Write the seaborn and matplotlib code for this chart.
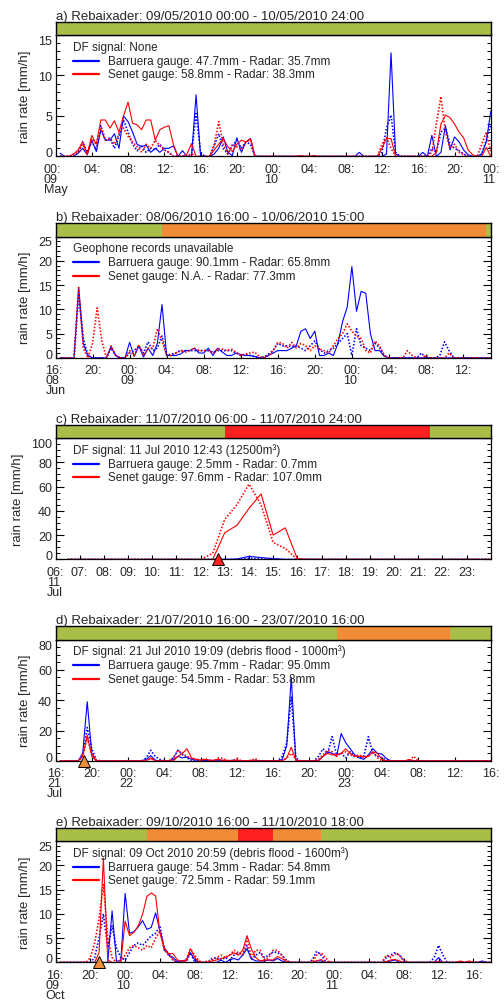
import numpy as np
import matplotlib
matplotlib.use("Agg")
import matplotlib.pyplot as plt
import seaborn as sns
from matplotlib.lines import Line2D
from matplotlib.ticker import MultipleLocator

sns.set_theme(style="white")
plt.rcParams['font.family'] = ['Liberation Sans', 'DejaVu Sans']

STEP = 0.5  # hours between samples

# ---------------- panel a ----------------
a_bar_gauge = [0.4, 0, 0, 0, 0.4, 1.0, 0.2, 2.0, 0.6, 3.3, 2.0, 2.0,
               2.8, 1.0, 5.0, 4.3, 3.0, 1.5, 1.2, 1.4, 0.5, 1.0, 0.5, 1.0,
               1.0, 1.3, 0, 0.7, 0, 0, 7.6, 0, 0, 0, 0.3, 1.0,
               2.4, 0.5, 0.1, 2.3, 0.5, 1.8, 2.2, 0, 0, 0, 0, 0,
               0, 0, 0, 0, 0, 0, 0, 0, 0, 0, 0, 0,
               0, 0, 0, 0, 0, 0, 0.5, 0, 0, 0, 0, 0,
               0.3, 12.8, 0.3, 0, 0, 0, 0, 0, 0.5, 0, 2.6, 0,
               0.5, 3.8, 0.8, 2.4, 1.8, 0.8, 0.2, 0, 0, 0.3, 1.8, 5.6]
a_bar_radar = [0, 0, 0, 0, 0.5, 1.8, 0.5, 1.8, 0.8, 3.8, 2.0, 2.3,
               1.0, 2.5, 4.5, 3.0, 1.5, 0.7, 1.3, 0.5, 1.0, 0.8, 1.5, 0.8,
               0.5, 0, 0, 0, 0, 0.3, 5.3, 0.5, 0, 0, 1.3, 2.8,
               1.0, 0.3, 1.3, 2.0, 1.0, 1.8, 1.5, 0, 0, 0, 0, 0,
               0, 0, 0, 0, 0, 0, 0, 0, 0, 0, 0, 0,
               0, 0, 0, 0, 0, 0, 0, 0, 0, 0, 0, 0.5,
               3.5, 5.1, 0.5, 0, 0, 0, 0, 0, 0, 0, 1.0, 0.5,
               3.0, 3.5, 1.5, 1.0, 0.7, 0.3, 0, 0, 0, 0.3, 2.0, 4.0]
a_sen_gauge = [0, 0, 0, 0.3, 0.8, 1.8, 0.2, 2.6, 1.5, 4.5, 4.5, 3.5,
               4.4, 3.0, 5.0, 6.7, 4.1, 3.9, 3.3, 4.5, 4.5, 2.0, 3.3, 3.6,
               3.8, 1.5, 0, 0, 0.3, 1.6, 0, 0, 0, 0, 0.8, 1.5,
               2.2, 1.2, 0.6, 1.5, 2.0, 1.8, 2.2, 0, 0, 0, 0, 0,
               0, 0, 0, 0, 0, 0.1, 0, 0, 0.1, 0, 0, 0,
               0, 0, 0, 0, 0, 0, 0, 0, 0, 0, 0, 1.0,
               2.2, 2.2, 0, 0, 0, 0, 0, 0, 0, 0, 0, 0.5,
               4.0, 5.1, 4.8, 4.0, 3.0, 2.3, 0.8, 0.2, 0, 0, 1.1, 0]
a_sen_radar = [0, 0, 0, 0.3, 0.5, 1.5, 0.3, 2.2, 1.5, 3.6, 2.0, 2.2,
               1.5, 2.8, 3.5, 2.5, 1.8, 1.2, 0.5, 1.5, 1.0, 2.0, 1.3, 0.8,
               0.5, 0, 0, 0, 0, 0.3, 0, 0, 0, 0, 1.5, 4.3,
               1.5, 0.3, 1.5, 1.2, 0.8, 1.8, 2.0, 0, 0, 0, 0, 0,
               0, 0, 0, 0, 0, 0, 0, 0, 0, 0, 0, 0,
               0, 0, 0, 0, 0, 0, 0, 0, 0, 0, 0, 1.5,
               2.3, 1.0, 0, 0, 0, 0, 0, 0, 0, 0, 0.5, 4.0,
               7.4, 3.0, 1.0, 1.5, 0.5, 0.2, 0, 0, 0, 1.5, 3.0, 0.5]

# ---------------- panel b ----------------
b_bar_gauge = [0, 0, 0, 0, 14.5, 3.0, 0.5, 0, 0, 0, 0, 2.3,
               0.5, 0, 0, 3.2, 0.3, 2.5, 0.2, 2.0, 0.5, 3.0, 11.0, 0.5,
               0.5, 0.5, 0.8, 1.5, 1.5, 2.0, 1.0, 1.0, 2.0, 0.5, 2.0, 1.2,
               0.5, 0.5, 1.0, 0.7, 0.5, 0.5, 0.3, 0, 0, 0.5, 1.0, 1.5,
               1.5, 1.5, 2.0, 2.5, 5.5, 6.0, 4.0, 5.5, 0.5, 0.5, 1.0, 0.5,
               3.0, 7.5, 10.5, 18.8, 9.6, 13.7, 13.3, 5.0, 1.5, 1.5, 0.3, 0,
               0, 0, 0, 0, 0, 0, 0, 0, 0, 0, 0, 0,
               0, 0, 0, 0, 0, 0, 0, 0, 0, 0]
b_bar_radar = [0, 0, 0, 0, 13.0, 4.0, 0.5, 0, 0, 0, 0, 2.0,
               0.5, 0, 0, 1.0, 1.5, 2.5, 1.0, 3.3, 1.5, 2.0, 4.5, 0.5,
               0.8, 1.0, 1.5, 1.5, 1.5, 1.5, 1.5, 1.5, 1.5, 1.2, 1.5, 1.5,
               1.5, 1.5, 1.0, 0.5, 0.7, 0.5, 0.3, 0, 0.2, 0.8, 1.5, 3.0,
               2.5, 2.5, 2.3, 2.5, 2.0, 1.5, 2.5, 3.5, 1.8, 1.0, 1.5, 2.0,
               3.0, 4.0, 5.0, 0.5, 6.0, 2.5, 2.0, 1.5, 3.0, 2.0, 0.5, 0,
               0, 0, 0, 0, 0, 0, 1.0, 0, 0, 0, 0.5, 3.3,
               1.5, 0, 0, 0, 0, 0, 0, 0, 0, 0]
b_sen_gauge = None  # N.A.
b_sen_radar = [0, 0, 0, 0, 14.5, 2.0, 0, 3.0, 10.3, 3.5, 0, 2.5,
               0.5, 0, 0, 1.5, 0.5, 2.5, 0.5, 2.0, 2.0, 6.0, 3.5, 0.5,
               0.5, 1.0, 1.5, 1.2, 1.5, 2.0, 1.5, 1.5, 1.5, 1.0, 1.8, 1.8,
               1.5, 1.8, 1.2, 0.5, 0.8, 1.0, 1.2, 0.3, 0, 0.5, 1.5, 3.2,
               3.0, 2.0, 3.2, 2.0, 3.0, 2.5, 1.5, 2.5, 1.8, 1.5, 1.0, 2.5,
               4.0, 5.0, 7.0, 5.5, 4.5, 4.0, 1.5, 1.0, 3.5, 2.5, 0.5, 0,
               0, 0, 0, 1.5, 0.5, 0, 0, 0.5, 0, 0, 0, 0,
               1.0, 0, 0, 0, 0, 0, 0, 0, 0, 0]

# ---------------- panel c ----------------
c_bar_gauge = [0, 0, 0, 0, 0, 0, 0, 0, 0, 0, 0, 0,
               0, 0, 0.3, 2.5, 1.5, 0.7, 0, 0, 0, 0, 0, 0,
               0, 0, 0, 0, 0, 0, 0, 0, 0, 0, 0, 0]
c_bar_radar = [0, 0, 0, 0, 0, 0, 0, 0, 0, 0, 0, 0,
               0, 0, 0, 1.0, 0.4, 0, 0, 0, 0, 0, 0, 0,
               0, 0, 0, 0, 0, 0, 0, 0, 0, 0, 0, 0]
c_sen_gauge = [0, 0, 0, 0, 0, 0, 0, 0, 0, 0, 0, 0,
               0, 22, 28, 42, 54, 20, 26, 0.5, 0, 0, 0, 0,
               0, 0, 0, 0, 0, 0, 0, 0, 0, 0, 0, 0]
c_sen_radar = [0, 0, 0, 0, 0, 0, 0, 0, 0, 0, 0, 0,
               5, 33, 45, 62, 45, 14, 9, 0, 0, 0, 0, 0,
               0, 0, 0, 0, 0, 0, 0, 0, 0, 0, 0, 0]

# ---------------- panel d ----------------
d_bar_gauge = [0, 0, 0, 0, 0, 5, 39, 5, 0, 0, 0, 0,
               0, 0, 0, 0, 0, 0, 0, 1, 3.5, 0.5, 0, 0,
               0, 1, 3, 2, 2.5, 1, 0.5, 0.5, 0.3, 0.5, 0, 0,
               0.5, 0, 0.5, 0.3, 0, 0, 0, 0.5, 0, 0, 0, 0,
               0, 1, 10, 55, 0, 0, 0, 0, 0, 0.5, 3, 6,
               5, 3, 18, 12, 8, 4, 2, 1, 4, 8, 5, 4.5,
               1.5, 0, 0, 0, 0, 0.5, 0, 0, 0, 0, 0, 0,
               0, 0, 0, 0, 0, 0, 0, 0, 0, 0, 0, 0]
d_bar_radar = [0, 0, 0, 0, 0, 3, 22, 8, 0.5, 0, 0, 0,
               0, 0, 0, 0, 0, 0, 0, 2, 7, 3, 1, 0,
               0, 2, 7, 4, 2, 0, 0, 0, 1, 0, 0, 0.5,
               0, 0, 0, 0, 0, 0, 0, 0, 0, 0, 0, 0,
               0, 3, 12, 42, 2, 0, 0, 0, 0, 3, 8, 5,
               16, 4, 5, 2, 6, 3, 2, 3, 16, 5, 3, 2,
               0.5, 0, 0, 0, 0, 0, 0, 0, 0, 0, 0, 0,
               0, 0, 0, 0, 0, 0, 0, 0, 0, 0, 0, 0]
d_sen_gauge = [0, 0, 0, 0, 0, 3, 17, 3, 0, 0, 0, 0,
               0, 0, 0, 0, 0, 0, 0, 0, 2, 0, 0, 0,
               0, 0, 3, 5, 8, 2, 1, 0.5, 1, 0.5, 0.5, 1,
               0, 0.5, 0, 0.5, 0, 0, 0.5, 0, 0, 0, 0, 0,
               0, 0, 2, 9, 0.5, 0, 0, 0, 0, 0, 3, 5,
               4, 4, 5, 8, 5, 3, 3, 3, 3, 6, 5, 1,
               0, 0, 0, 0, 0, 1, 0, 0, 0, 0, 0, 0,
               0, 0, 0, 0, 0, 0, 0, 0, 0, 0, 0, 0]
d_sen_radar = [0, 0, 0, 0, 0, 3, 15, 5, 0.5, 0, 0, 0,
               0, 0, 0, 0, 0, 0, 0, 0, 1.5, 0, 0, 0,
               0, 2, 7, 5, 3, 1.5, 1.5, 0, 1.5, 0, 0, 2,
               1.5, 0, 0, 1.5, 0, 0, 0, 1.5, 0, 0, 0, 0,
               0, 0, 2, 5, 1, 0, 0, 0, 0, 1, 4, 7,
               6, 3, 5, 6, 4, 3, 4, 2, 3, 6, 2, 0,
               0, 0, 0, 0, 0, 0, 3, 0, 0, 0, 0, 0,
               0, 0, 0, 0, 0, 0, 0, 0, 0, 0, 0, 0]

# ---------------- panel e ----------------
e_bar_gauge = [0, 0, 0, 0, 0, 0, 0, 0, 0, 0, 0, 0,
               10.6, 0.3, 0.3, 14.2, 6.0, 6.3, 7.3, 8.6, 6.8, 7.2, 10.2, 6.5,
               3.0, 1.5, 1.0, 0.2, 0.3, 0.5, 2.0, 0.5, 0, 0, 0, 0,
               0, 0.5, 0, 0.5, 0.8, 0.5, 1.5, 2.8, 0.8, 0.3, 0.3, 0.3,
               0.5, 0.3, 0.8, 0.3, 0, 0, 0, 0, 0, 0, 0, 0.3,
               0.3, 0, 0, 0, 0, 0, 0, 0, 0, 0, 0, 0,
               0, 0, 0, 0, 0.3, 0.5, 0, 0, 0, 0, 0, 0,
               0, 0, 0, 1.0, 0, 0, 0, 0, 0, 0, 0, 0,
               0, 0.3, 0, 0]
e_bar_radar = [0, 0, 0, 0, 0, 0, 0, 0, 1, 5, 10, 3,
               7.5, 3, 1, 0.5, 2, 3.5, 4, 3.5, 4.5, 5.5, 6, 7.5,
               2.5, 2, 0.5, 0, 0, 0, 2, 0, 0, 0, 0, 0.8,
               1, 0.5, 1, 0.5, 1.5, 2, 1.5, 3.5, 0.5, 1.5, 2, 1,
               1.5, 2.2, 2, 1.5, 0.5, 0, 0, 0, 0, 0, 0.5, 2.3,
               1.5, 0.3, 0, 0, 0, 0, 0, 0, 0, 0, 0, 0,
               0, 0, 0, 1, 1.5, 2, 1.5, 0.3, 0, 0, 0, 0,
               0, 0, 1, 3.5, 1.5, 0, 0, 0, 0, 0, 0, 0,
               0, 0, 0, 0]
e_sen_gauge = [0, 0, 0, 0, 0, 0, 0, 0, 0, 2, 21.5, 0.5,
               0, 0, 0, 8.5, 5.5, 6.2, 7.5, 9.9, 13.6, 14.3, 13.7, 6,
               3, 1.8, 1.8, 0.5, 0.3, 0.3, 2.8, 1.0, 0, 0, 0, 0.3,
               0.5, 0.8, 1.0, 1.5, 2.0, 1.5, 2.5, 5.5, 2.8, 1.0, 0.3, 0.5,
               0.5, 0.5, 1.2, 0.8, 0.2, 0, 0, 0, 0, 0, 0, 0.3,
               0.6, 0, 0, 0, 0, 0, 0, 0, 0, 0, 0, 0,
               0, 0, 0, 0.2, 0.5, 0.6, 0.3, 0, 0, 0, 0, 0,
               0, 0, 0, 0.2, 0, 0, 0, 0, 0.3, 0, 0.3, 0,
               0, 0, 0, 0]
e_sen_radar = [0, 0, 0, 0, 0, 0, 0, 1, 4, 9, 16, 5,
               1, 0, 0.5, 1.5, 3, 3.5, 3, 2.5, 3.5, 3, 5, 6.5,
               2.5, 1.5, 0.5, 0, 0, 0.5, 2.8, 1.5, 0.3, 0, 0.3, 0.5,
               1, 1.5, 1, 1.5, 2.5, 2, 1.5, 5, 1, 2.5, 2.5, 0.5,
               1, 2.5, 2.5, 1.5, 0.3, 0, 0, 0, 0, 0, 0, 1.5,
               2, 1, 0, 0, 0, 0, 0, 0, 0, 0, 0, 0,
               0, 0, 0, 1.5, 1, 1.8, 1.5, 0.5, 0, 0, 0, 0,
               0, 0, 0, 0, 0, 0, 0, 0, 0, 0, 0, 0,
               0, 0, 0, 0]

# ---------------- texts ----------------
titles = ["a) Rebaixader: 09/05/2010 00:00 - 10/05/2010 24:00",
          "b) Rebaixader: 08/06/2010 16:00 - 10/06/2010 15:00",
          "c) Rebaixader: 11/07/2010 06:00 - 11/07/2010 24:00",
          "d) Rebaixader: 21/07/2010 16:00 - 23/07/2010 16:00",
          "e) Rebaixader: 09/10/2010 16:00 - 11/10/2010 18:00"]
headers = ["DF signal: None",
           "Geophone records unavailable",
           "DF signal: 11 Jul 2010 12:43 (12500m³)",
           "DF signal: 21 Jul 2010 19:09 (debris flood - 1000m³)",
           "DF signal: 09 Oct 2010 20:59 (debris flood - 1600m³)"]
barruera_txt = ["Barruera gauge: 47.7mm - Radar: 35.7mm",
                "Barruera gauge: 90.1mm - Radar: 65.8mm",
                "Barruera gauge: 2.5mm - Radar: 0.7mm",
                "Barruera gauge: 95.7mm - Radar: 95.0mm",
                "Barruera gauge: 54.3mm - Radar: 54.8mm"]
senet_txt = ["Senet gauge: 58.8mm - Radar: 38.3mm",
             "Senet gauge: N.A. - Radar: 77.3mm",
             "Senet gauge: 97.6mm - Radar: 107.0mm",
             "Senet gauge: 54.5mm - Radar: 53.8mm",
             "Senet gauge: 72.5mm - Radar: 59.1mm"]

# span of each panel (hours) and y limits
spans = [48, 47, 18, 48, 50]
ytops = [15, 25, 100, 80, 25]
ymajor = [5, 5, 20, 20, 5]
yminor = [1, 1, 5, 5, 1]

# x ticks (hours from panel start) and labels
a_ticks = [0, 4, 8, 12, 16, 20, 24, 28, 32, 36, 40, 44, 48]
a_labels = ["00:\n09\nMay", "04:", "08:", "12:", "16:", "20:", "00:\n10",
            "04:", "08:", "12:", "16:", "20:", "00:\n11"]
b_ticks = [0, 4, 8, 12, 16, 20, 24, 28, 32, 36, 40, 44]
b_labels = ["16:\n08\nJun", "20:", "00:\n09", "04:", "08:", "12:", "16:",
            "20:", "00:\n10", "04:", "08:", "12:"]
c_ticks = [0, 1, 2, 3, 4, 5, 6, 7, 8, 9, 10, 11, 12, 13, 14, 15, 16, 17]
c_labels = ["06:\n11\nJul", "07:", "08:", "09:", "10:", "11:", "12:", "13:",
            "14:", "15:", "16:", "17:", "18:", "19:", "20:", "21:", "22:",
            "23:"]
d_ticks = [0, 4, 8, 12, 16, 20, 24, 28, 32, 36, 40, 44, 48]
d_labels = ["16:\n21\nJul", "20:", "00:\n22", "04:", "08:", "12:", "16:",
            "20:", "00:\n23", "04:", "08:", "12:", "16:"]
e_ticks = [0, 4, 8, 12, 16, 20, 24, 28, 32, 36, 40, 44, 48]
e_labels = ["16:\n09\nOct", "20:", "00:\n10", "04:", "08:", "12:", "16:",
            "20:", "00:\n11", "04:", "08:", "12:", "16:"]

# status bar periods: (start h, end h, state)
a_status = [(0, 48, "green")]
b_status = [(0, 11.5, "green"), (11.5, 46.5, "orange"), (46.5, 47, "green")]
c_status = [(0, 7, "green"), (7, 15.5, "red"), (15.5, 18, "green")]
d_status = [(0, 31, "green"), (31, 43.5, "orange"), (43.5, 48, "green")]
e_status = [(0, 10.5, "green"), (10.5, 21, "orange"), (21, 25, "red"),
            (25, 30.5, "orange"), (30.5, 50, "green")]

# debris-flow event markers: (hour from start, state) or None
events = [None, None, (6.717, "red"), (3.15, "orange"), (4.983, "orange")]

state_colors = {"green": "#A9BE48", "orange": "#F08B38", "red": "#FF2020"}

series = [
    (a_bar_gauge, a_bar_radar, a_sen_gauge, a_sen_radar),
    (b_bar_gauge, b_bar_radar, b_sen_gauge, b_sen_radar),
    (c_bar_gauge, c_bar_radar, c_sen_gauge, c_sen_radar),
    (d_bar_gauge, d_bar_radar, d_sen_gauge, d_sen_radar),
    (e_bar_gauge, e_bar_radar, e_sen_gauge, e_sen_radar),
]
ticks = [a_ticks, b_ticks, c_ticks, d_ticks, e_ticks]
tlabels = [a_labels, b_labels, c_labels, d_labels, e_labels]
statuses = [a_status, b_status, c_status, d_status, e_status]

W, H = 504, 1003
fig = plt.figure(figsize=(W / 100, H / 100), dpi=100)
fig.patch.set_facecolor("white")

DOT = (0, (0.9, 1.1))


def draw(ax, y, color, ls, lw):
    if y is None:
        return
    y = np.asarray(y, dtype=float)
    x = np.arange(1, len(y) + 1) * STEP
    sns.lineplot(x=x, y=y, ax=ax, color=color, linestyle=ls, linewidth=lw,
                 estimator=None, errorbar=None, sort=False, legend=False)


for k in range(5):
    top = 36 + 201.5 * k
    ph = 121.4
    ax = fig.add_axes([55.5 / W, 1 - (top + ph) / H, 435.3 / W, ph / H])
    bax = fig.add_axes([55.5 / W, 1 - top / H, 435.3 / W, 13.4 / H])

    bg, br, sg, sr = series[k]
    draw(ax, bg, "#0000FF", "-", 0.8)
    draw(ax, br, "#0000FF", DOT, 1.2)
    draw(ax, sg, "#FF0000", "-", 0.8)
    draw(ax, sr, "#FF0000", DOT, 1.2)

    ax.set_xlim(0, spans[k])
    ax.set_ylim(0, ytops[k])
    ax.set_yticks(np.arange(0, ytops[k] + 0.1, ymajor[k]))
    ax.yaxis.set_minor_locator(MultipleLocator(yminor[k]))
    ax.set_xticks(ticks[k])
    ax.set_xticklabels(tlabels[k], fontsize=9, linespacing=0.78,
                       multialignment="left")
    ax.tick_params(axis="y", which="major", direction="in", length=5.5,
                   width=0.8, left=True, right=True, labelsize=9, pad=2.5,
                   color="black")
    ax.tick_params(axis="y", which="minor", direction="in", length=3.2,
                   width=0.7, left=True, right=True, color="black")
    ax.tick_params(axis="x", which="major", direction="in", length=3,
                   width=0.8, bottom=True, top=False, pad=4.5,
                   color="black")
    ylabs = ax.get_yticklabels()
    ylabs[0].set_va("baseline")
    ylabs[-1].set_va("top")
    ax.set_xlabel("")
    ax.set_ylabel("rain rate [mm/h]", fontsize=9.5, labelpad=5)
    for s in ax.spines.values():
        s.set_color("black")
        s.set_linewidth(0.9)

    # legend block
    ax.text(0.0395, 0.905, headers[k], transform=ax.transAxes,
            fontsize=8.5, va="center", ha="left")
    ax.add_line(Line2D([0.0395, 0.1006], [0.786, 0.786],
                       transform=ax.transAxes, color="#0000FF", lw=1.6))
    ax.text(0.121, 0.786, barruera_txt[k], transform=ax.transAxes,
            fontsize=8.5, va="center", ha="left")
    ax.add_line(Line2D([0.0395, 0.1006], [0.678, 0.678],
                       transform=ax.transAxes, color="#FF0000", lw=1.6))
    ax.text(0.121, 0.678, senet_txt[k], transform=ax.transAxes,
            fontsize=8.5, va="center", ha="left")

    if events[k] is not None:
        t, st = events[k]
        ax.plot([t], [0], marker="^", ms=8.5, mfc=state_colors[st],
                mec="black", mew=0.7, clip_on=False, zorder=10,
                linestyle="none")

    # status bar
    for s0, s1, st in statuses[k]:
        bax.axvspan(s0, s1, color=state_colors[st], lw=0)
    bax.set_xlim(0, spans[k])
    bax.set_ylim(0, 1)
    bax.set_xticks([])
    bax.set_yticks([])
    for s in bax.spines.values():
        s.set_color("black")
        s.set_linewidth(1.0)
    bax.set_title(titles[k], loc="left", fontsize=9.5, pad=1.2)

fig.savefig("out.png", dpi=100, facecolor="white")
